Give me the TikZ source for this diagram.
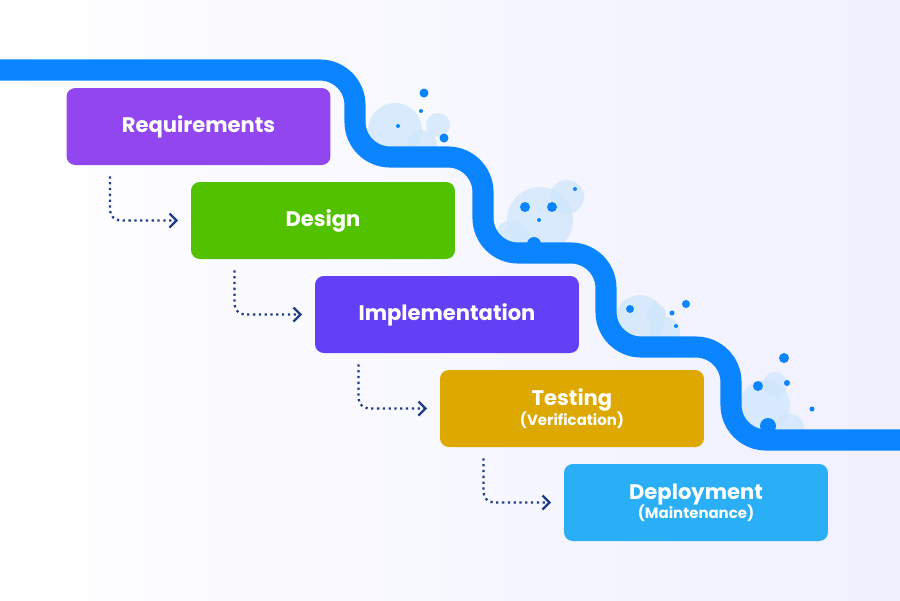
\documentclass[tikz,border=0pt]{standalone}
\usepackage{fontspec}
\setmainfont{Poppins}
\usetikzlibrary{positioning,arrows.meta}
\definecolor{pipe}{HTML}{0A85FF}
\definecolor{bubble}{HTML}{CFE6FB}
\definecolor{navy}{HTML}{1F3C88}
\definecolor{creq}{HTML}{9146F0}
\definecolor{cdes}{HTML}{52C200}
\definecolor{cimp}{HTML}{6340F5}
\definecolor{ctest}{HTML}{DDA800}
\definecolor{cdep}{HTML}{2AAEF5}
\newcommand\subtxt[1]{{\bfseries\fontsize{8.5}{10}\selectfont #1}}
\tikzset{
  phase/.style={rounded corners=5pt,minimum width=5.28cm,minimum height=1.54cm,
    text=white,font=\bfseries\fontsize{12}{14}\selectfont,align=center,inner sep=0pt},
  flow/.style={navy,line width=1.3pt,dotted,rounded corners=6pt,-{Straight Barb[length=4pt]}},
  bub/.style={fill=bubble,fill opacity=0.75},
  dot/.style={fill=pipe}
}
\begin{document}
\begin{tikzpicture}[x=0.02cm,y=-0.02cm]
  \useasboundingbox (0,0) rectangle (900,600);
  \clip (0,0) rectangle (900,600);
  \shade[left color=white,right color=blue!6] (0,0) rectangle (900,600);
  % bubbles
  \fill[bub] (395,130) circle (27); \fill[bub] (438,125) circle (12); \fill[bub] (422,145) circle (15);
  \fill[dot] (424,93) circle (4.5); \fill[dot] (444,138) circle (4.5); \fill[dot] (398,126) circle (2); \fill[dot] (421,111) circle (2);
  \fill[bub] (540,220) circle (33); \fill[bub] (567,197) circle (17); \fill[bub] (512,237) circle (17);
  \fill[dot] (525,207) circle (5); \fill[dot] (552,207) circle (5); \fill[dot] (534,244) circle (7); \fill[dot] (575,189) circle (2); \fill[dot] (539,220) circle (2);
  \fill[bub] (640,320) circle (25); \fill[bub] (656,314) circle (10); \fill[bub] (665,332) circle (15);
  \fill[dot] (630,309) circle (4); \fill[dot] (686,304) circle (4); \fill[dot] (672,313) circle (2.5); \fill[dot] (676,326) circle (2);
  \fill[bub] (765,405) circle (25); \fill[bub] (775,384) circle (12); \fill[bub] (790,428) circle (14);
  \fill[dot] (784,358) circle (5); \fill[dot] (758,386) circle (5); \fill[dot] (768,426) circle (8); \fill[dot] (787,383) circle (3); \fill[dot] (812,409) circle (2.5);
  % waterfall pipe
  \draw[pipe,line width=12pt,rounded corners=20pt]
    (-10,70) -- (355,70) -- (355,157) -- (483,157) -- (483,253) -- (606,253)
    -- (606,347) -- (731,347) -- (731,440) -- (910,440);
  % phases
  \node[phase,fill=creq]  (req)  at (198.5,126.5) {Requirements};
  \node[phase,fill=cdes]  (des)  at (323,220.5)   {Design};
  \node[phase,fill=cimp]  (imp)  at (447,314.5)   {Implementation};
  \node[phase,fill=ctest] (test) at (572,408.5)   {Testing\\[-3pt]\subtxt{(Verification)}};
  \node[phase,fill=cdep]  (dep)  at (696,502.5)   {Deployment\\[-3pt]\subtxt{(Maintenance)}};
  % dotted flow
  \foreach \a/\b in {req/des,des/imp,imp/test,test/dep}
    \draw[flow] ([xshift=-1.77cm,yshift=-0.22cm]\a.south) |- ([xshift=-0.25cm]\b.west);
\end{tikzpicture}
\end{document}
